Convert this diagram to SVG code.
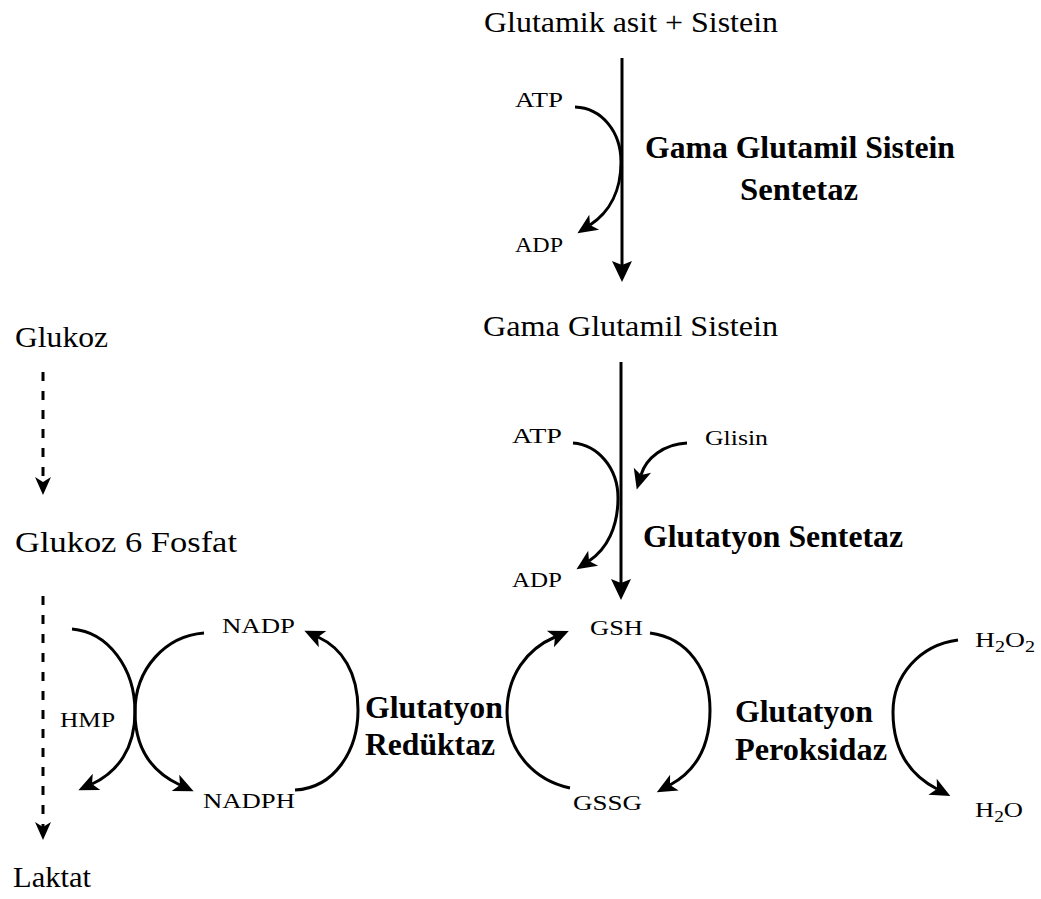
<svg xmlns="http://www.w3.org/2000/svg" width="1041" height="899" viewBox="0 0 1041 899">
<style>
  .t { font-family: "Liberation Serif", "Times New Roman", serif; fill: #000; }
  .big { font-size: 30px; }
  .sm { font-size: 22px; }
  .b { font-family: "Liberation Serif", "Times New Roman", serif; font-weight: bold; font-size: 31px; fill: #000; }
  .ln { fill: none; stroke: #000; stroke-width: 3; }
  .dash { fill: none; stroke: #000; stroke-width: 3; stroke-dasharray: 9 10; }
</style>
<defs>
  <marker id="ah" markerUnits="userSpaceOnUse" viewBox="-21 -10 22 20" markerWidth="22" markerHeight="20" refX="-15" refY="0" orient="auto">
    <path d="M0,0 L-20,-9 L-15,0 L-20,9 z" fill="#000" stroke="none"/>
  </marker>
  <marker id="ahm" markerUnits="userSpaceOnUse" viewBox="-22 -11 23 22" markerWidth="23" markerHeight="22" refX="-17" refY="0" orient="auto">
    <path d="M0,0 L-21,-10 L-17,0 L-21,10 z" fill="#000" stroke="none"/>
  </marker>
  <marker id="ahd" markerUnits="userSpaceOnUse" viewBox="-19 -9 20 18" markerWidth="20" markerHeight="18" refX="-13" refY="0" orient="auto">
    <path d="M0,0 L-18,-8 L-13,0 L-18,8 z" fill="#000" stroke="none"/>
  </marker>
</defs>
<rect width="1041" height="899" fill="#fff"/>

<g id="connectors">
  <path class="ln" d="M622,58 L622,265" marker-end="url(#ahm)"/>
  <path class="ln" d="M621,362 L621,583" marker-end="url(#ahm)"/>
  <path class="ln" d="M575,107 C602,108 621,132 621,162 C621,190 610,212 590,225" marker-end="url(#ah)"/>
  <path class="ln" d="M573,443 C598,445 618,468 618,498 C618,527 607,549 589,561" marker-end="url(#ah)"/>
  <path class="ln" d="M687,443 C664,444 646,458 641,475" marker-end="url(#ah)"/>
  <path class="dash" d="M43,372 L43,482" marker-end="url(#ahd)"/>
  <path class="dash" d="M43,596 L43,827" marker-end="url(#ahd)"/>
  <path class="ln" d="M72,629 C108,632 135,668 135,712 C135,748 118,772 92,784" marker-end="url(#ah)"/>
  <path class="ln" d="M204,633 C166,636 135,668 135,712 C135,748 152,772 180,785" marker-end="url(#ah)"/>
  <path class="ln" d="M295,790 C335,788 358,750 358,710 C358,672 342,648 318,637" marker-end="url(#ah)"/>
  <path class="ln" d="M570,788 C533,780 507,750 507,712 C507,675 527,649 555,637" marker-end="url(#ah)"/>
  <path class="ln" d="M650,633 C688,638 710,670 710,710 C710,748 694,772 670,785" marker-end="url(#ah)"/>
  <path class="ln" d="M958,640 C920,645 893,675 893,712 C893,750 910,775 937,789" marker-end="url(#ah)"/>
</g>

<g id="n-glutamik"><text class="t big" x="484" y="32" textLength="294" lengthAdjust="spacingAndGlyphs">Glutamik asit + Sistein</text></g>
<g id="n-atp1"><text class="t sm" x="515" y="107" textLength="48" lengthAdjust="spacingAndGlyphs">ATP</text></g>
<g id="n-adp1"><text class="t sm" x="515" y="252" textLength="48" lengthAdjust="spacingAndGlyphs">ADP</text></g>
<g id="n-ggcs">
  <text class="b" x="645" y="158" textLength="310" lengthAdjust="spacingAndGlyphs">Gama Glutamil Sistein</text>
  <text class="b" x="740" y="200" textLength="118" lengthAdjust="spacingAndGlyphs">Sentetaz</text>
</g>
<g id="n-ggc"><text class="t big" x="483" y="336" textLength="295" lengthAdjust="spacingAndGlyphs">Gama Glutamil Sistein</text></g>
<g id="n-atp2"><text class="t sm" x="512" y="443" textLength="50" lengthAdjust="spacingAndGlyphs">ATP</text></g>
<g id="n-adp2"><text class="t sm" x="512" y="587" textLength="50" lengthAdjust="spacingAndGlyphs">ADP</text></g>
<g id="n-glisin"><text class="t sm" x="705" y="445" textLength="63" lengthAdjust="spacingAndGlyphs">Glisin</text></g>
<g id="n-gs"><text class="b" x="643" y="547" textLength="260" lengthAdjust="spacingAndGlyphs">Glutatyon Sentetaz</text></g>
<g id="n-glukoz"><text class="t big" x="15" y="347" textLength="93" lengthAdjust="spacingAndGlyphs">Glukoz</text></g>
<g id="n-g6p"><text class="t big" x="15" y="552" textLength="222" lengthAdjust="spacingAndGlyphs">Glukoz 6 Fosfat</text></g>
<g id="n-laktat"><text class="t big" x="13" y="887" textLength="78" lengthAdjust="spacingAndGlyphs">Laktat</text></g>
<g id="n-hmp"><text class="t sm" x="60" y="727" textLength="55" lengthAdjust="spacingAndGlyphs">HMP</text></g>
<g id="n-nadp"><text class="t sm" x="222" y="633" textLength="73" lengthAdjust="spacingAndGlyphs">NADP</text></g>
<g id="n-nadph"><text class="t sm" x="203" y="808" textLength="92" lengthAdjust="spacingAndGlyphs">NADPH</text></g>
<g id="n-gr">
  <text class="b" x="365" y="718" textLength="138" lengthAdjust="spacingAndGlyphs">Glutatyon</text>
  <text class="b" x="365" y="755" textLength="130" lengthAdjust="spacingAndGlyphs">Redüktaz</text>
</g>
<g id="n-gsh"><text class="t sm" x="590" y="635" textLength="53" lengthAdjust="spacingAndGlyphs">GSH</text></g>
<g id="n-gssg"><text class="t sm" x="573" y="810" textLength="69" lengthAdjust="spacingAndGlyphs">GSSG</text></g>
<g id="n-gpx">
  <text class="b" x="735" y="722" textLength="138" lengthAdjust="spacingAndGlyphs">Glutatyon</text>
  <text class="b" x="735" y="760" textLength="152" lengthAdjust="spacingAndGlyphs">Peroksidaz</text>
</g>
<g id="n-h2o2"><text class="t sm" x="975" y="647" textLength="60" lengthAdjust="spacingAndGlyphs">H<tspan font-size="16" dy="5">2</tspan><tspan dy="-5">O</tspan><tspan font-size="16" dy="5">2</tspan></text></g>
<g id="n-h2o"><text class="t sm" x="975" y="817" textLength="48" lengthAdjust="spacingAndGlyphs">H<tspan font-size="16" dy="5">2</tspan><tspan dy="-5">O</tspan></text></g>
</svg>
